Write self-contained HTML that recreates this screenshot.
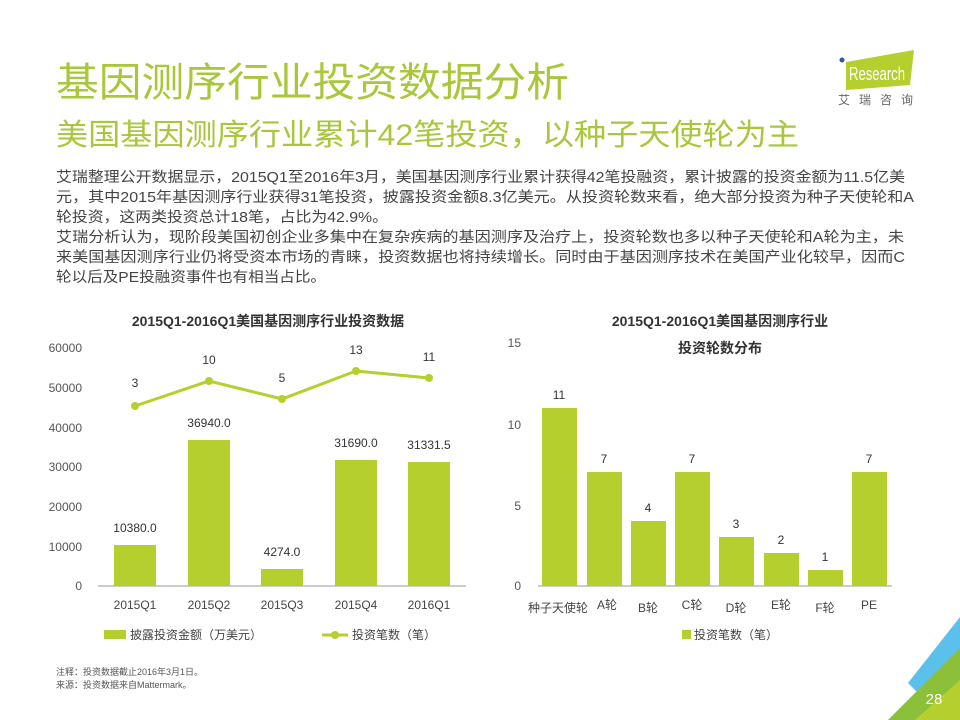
<!DOCTYPE html>
<html><head><meta charset="utf-8"><style>
body{margin:0;width:960px;height:720px;background:#fff;position:relative;overflow:hidden;font-family:"Liberation Sans","Noto Sans CJK SC",sans-serif;color:#333}
</style></head><body>
<svg width="960" height="720" style="position:absolute;left:0;top:0" font-family="Liberation Sans, Noto Sans CJK SC, sans-serif">
<text x="56" y="96" font-size="40" fill="#a8c73a" textLength="513" lengthAdjust="spacingAndGlyphs">基因测序行业投资数据分析</text>
<text x="56" y="145" font-size="30" fill="#a8c73a" textLength="743" lengthAdjust="spacingAndGlyphs">美国基因测序行业累计42笔投资，以种子天使轮为主</text>
<g font-size="14.5" fill="#444">
<text x="56" y="182" textLength="849" lengthAdjust="spacingAndGlyphs">艾瑞整理公开数据显示，2015Q1至2016年3月，美国基因测序行业累计获得42笔投融资，累计披露的投资金额为11.5亿美</text>
<text x="56" y="202" textLength="858" lengthAdjust="spacingAndGlyphs">元，其中2015年基因测序行业获得31笔投资，披露投资金额8.3亿美元。从投资轮数来看，绝大部分投资为种子天使轮和A</text>
<text x="56" y="222" textLength="332" lengthAdjust="spacingAndGlyphs">轮投资，这两类投资总计18笔，占比为42.9%。</text>
<text x="56" y="242" textLength="848" lengthAdjust="spacingAndGlyphs">艾瑞分析认为，现阶段美国初创企业多集中在复杂疾病的基因测序及治疗上，投资轮数也多以种子天使轮和A轮为主，未</text>
<text x="56" y="262" textLength="849" lengthAdjust="spacingAndGlyphs">来美国基因测序行业仍将受资本市场的青睐，投资数据也将持续增长。同时由于基因测序技术在美国产业化较早，因而C</text>
<text x="56" y="282" textLength="270" lengthAdjust="spacingAndGlyphs">轮以后及PE投融资事件也有相当占比。</text>
</g>
<!-- logo -->
<polygon points="800,0 0,0" fill="none"/>
<polygon points="846,62 914,50 910,85 846,90" fill="#b5cf2e"/>
<text x="849" y="80" font-size="18" fill="#fff" textLength="56" lengthAdjust="spacingAndGlyphs">Research</text>
<circle cx="842" cy="60" r="2.5" fill="#2a5ea8"/>
<text x="838" y="104" font-size="12" fill="#666" letter-spacing="9">艾瑞咨询</text>
<!-- left chart -->
<text x="268" y="326" font-size="14" font-weight="bold" text-anchor="middle" fill="#333">2015Q1-2016Q1美国基因测序行业投资数据</text>
<g font-size="12" fill="#555" text-anchor="end">
<text x="82" y="352">60000</text><text x="82" y="392">50000</text><text x="82" y="432">40000</text><text x="82" y="471">30000</text><text x="82" y="511">20000</text><text x="82" y="551">10000</text><text x="82" y="590">0</text></g>
<line x1="98" y1="586" x2="466" y2="586" stroke="#999"/>
<g fill="#b5cf2e">
<rect x="114" y="545" width="42" height="41"/><rect x="188" y="440" width="42" height="146"/><rect x="261" y="569" width="42" height="17"/><rect x="335" y="460" width="42" height="126"/><rect x="408" y="462" width="42" height="124"/></g>
<g font-size="12" fill="#333" text-anchor="middle">
<text x="135" y="532">10380.0</text><text x="209" y="427">36940.0</text><text x="282" y="556">4274.0</text><text x="356" y="447">31690.0</text><text x="429" y="449">31331.5</text>
<text x="135" y="387">3</text><text x="209" y="364">10</text><text x="282" y="382">5</text><text x="356" y="354">13</text><text x="429" y="361">11</text></g>
<polyline points="135,406 209,381 282,399 356,371 429,378" fill="none" stroke="#b5cf2e" stroke-width="3"/>
<g fill="#b5cf2e"><circle cx="135" cy="406" r="4"/><circle cx="209" cy="381" r="4"/><circle cx="282" cy="399" r="4"/><circle cx="356" cy="371" r="4"/><circle cx="429" cy="378" r="4"/></g>
<g font-size="12" fill="#444" text-anchor="middle">
<text x="135" y="609">2015Q1</text><text x="209" y="609">2015Q2</text><text x="282" y="609">2015Q3</text><text x="356" y="609">2015Q4</text><text x="429" y="609">2016Q1</text></g>
<rect x="104" y="630" width="22" height="9" fill="#b5cf2e"/>
<text x="130" y="639" font-size="12" fill="#444">披露投资金额（万美元）</text>
<line x1="322" y1="635" x2="348" y2="635" stroke="#b5cf2e" stroke-width="3"/><circle cx="335" cy="635" r="4" fill="#b5cf2e"/>
<text x="352" y="639" font-size="12" fill="#444">投资笔数（笔）</text>
<!-- right chart -->
<text x="720" y="326" font-size="14" font-weight="bold" text-anchor="middle" fill="#333">2015Q1-2016Q1美国基因测序行业</text>
<text x="720" y="353" font-size="14" font-weight="bold" text-anchor="middle" fill="#333">投资轮数分布</text>
<g font-size="12" fill="#555" text-anchor="end">
<text x="521" y="347">15</text><text x="521" y="429">10</text><text x="521" y="510">5</text><text x="521" y="590">0</text></g>
<line x1="538" y1="586" x2="892" y2="586" stroke="#999"/>
<g fill="#b5cf2e">
<rect x="542" y="408" width="35" height="178"/><rect x="587" y="472" width="35" height="114"/><rect x="631" y="521" width="35" height="65"/><rect x="675" y="472" width="35" height="114"/><rect x="719" y="537" width="35" height="49"/><rect x="764" y="553" width="35" height="33"/><rect x="808" y="570" width="35" height="16"/><rect x="852" y="472" width="35" height="114"/></g>
<g font-size="12" fill="#333" text-anchor="middle">
<text x="559" y="399">11</text><text x="604" y="463">7</text><text x="648" y="512">4</text><text x="692" y="463">7</text><text x="736" y="528">3</text><text x="781" y="544">2</text><text x="825" y="561">1</text><text x="869" y="463">7</text></g>
<g font-size="12" fill="#444" text-anchor="middle">
<text x="558" y="612">种子天使轮</text><text x="607" y="609">A轮</text><text x="648" y="612">B轮</text><text x="692" y="609">C轮</text><text x="736" y="612">D轮</text><text x="781" y="609">E轮</text><text x="825" y="612">F轮</text><text x="869" y="609">PE</text></g>
<rect x="682" y="630" width="9" height="9" fill="#b5cf2e"/>
<text x="694" y="639" font-size="12" fill="#444">投资笔数（笔）</text>
<!-- footnote -->
<text x="56" y="675" font-size="9" fill="#555">注释：投资数据截止2016年3月1日。</text>
<text x="56" y="688" font-size="9" fill="#555">来源：投资数据来自Mattermark。</text>
<!-- corner -->
<polygon points="908,683 960,617 960,655 918,693" fill="#5bc0eb"/>
<polygon points="888,720 960,648 960,720" fill="#8cbf3a"/>
<polygon points="915,720 960,680 960,720" fill="#b5cf2e"/>
<text x="934" y="704" font-size="15" fill="#fff" text-anchor="middle">28</text>
</svg>
</body></html>
